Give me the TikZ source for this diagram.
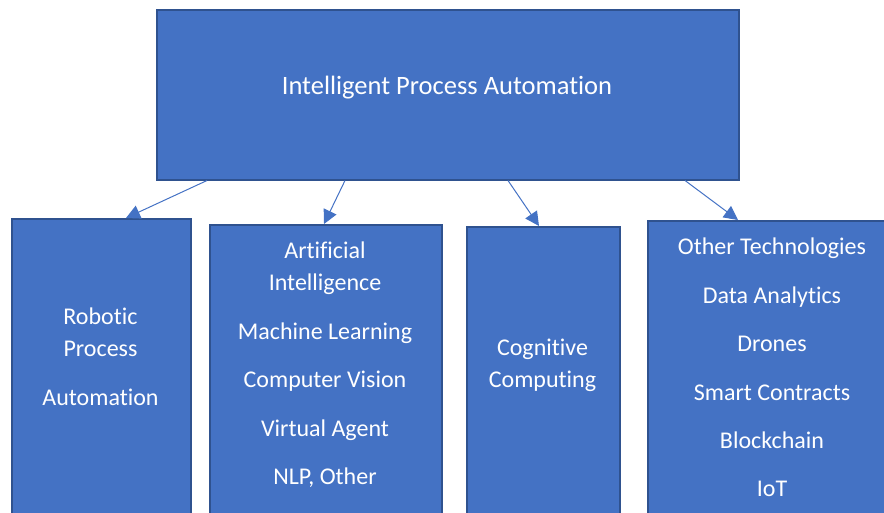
\documentclass[tikz,border=0pt]{standalone}
\usepackage{fontspec}
\setmainfont{Carlito}[Ligatures=NoCommon]
\usetikzlibrary{arrows.meta}
\definecolor{boxblue}{HTML}{4472C4}
\definecolor{boxedge}{HTML}{2F528F}
\begin{document}
\begin{tikzpicture}[x=1pt,y=-1pt,
  blk/.style={draw=boxedge,fill=boxblue,line width=1.5pt,anchor=north west,inner sep=0pt},
  txt/.style={text=white,anchor=base,inner sep=0pt,font=\fontsize{24}{29}\selectfont},
  arr/.style={boxblue,line width=1pt,-{Triangle[length=14pt,width=14pt]}}]
\useasboundingbox (0,0) rectangle (884,512);
\clip (0,0) rectangle (884,512);
% boxes
\node[blk,minimum width=582pt,minimum height=170pt] (ipa) at (156,9) {};
\node[blk,minimum width=179pt,minimum height=320pt] (rpa) at (11,218) {};
\node[blk,minimum width=232pt,minimum height=320pt] (ai) at (209,224) {};
\node[blk,minimum width=153pt,minimum height=320pt] (cc) at (466,226) {};
\node[blk,minimum width=250pt,minimum height=320pt] (other) at (647,220) {};
% arrows
\draw[arr] ([xshift=51pt]ipa.south west) -- ([xshift=115pt]rpa.north west);
\draw[arr] ([xshift=189pt]ipa.south west) -- ([xshift=115pt]ai.north west);
\draw[arr] ([xshift=352pt]ipa.south west) -- ([xshift=73pt]cc.north west);
\draw[arr] ([xshift=529pt]ipa.south west) -- ([xshift=91pt]other.north west);
% texts
\node[txt,font=\fontsize{26.5}{32}\selectfont] (ipat) at (447,94) {Intelligent Process Automation};
\node[txt] (rpa1) at (100.5,324) {Robotic};
\node[txt] (rpa2) at (100.5,356) {Process};
\node[txt] (rpa3) at (100.5,405) {Automation};
\node[txt] (ai1) at (325,258) {Artificial};
\node[txt] (ai2) at (325,290) {Intelligence};
\node[txt] (ai3) at (325,339) {Machine Learning};
\node[txt] (ai4) at (325,387) {Computer Vision};
\node[txt] (ai5) at (325,436) {Virtual Agent};
\node[txt] (ai6) at (325,484) {NLP, Other};
\node[txt] (cc1) at (542.5,355) {Cognitive};
\node[txt] (cc2) at (542.5,387) {Computing};
\node[txt] (ot1) at (772,254) {Other Technologies};
\node[txt] (ot2) at (772,303) {Data Analytics};
\node[txt] (ot3) at (772,351) {Drones};
\node[txt] (ot4) at (772,400) {Smart Contracts};
\node[txt] (ot5) at (772,448) {Blockchain};
\node[txt] (ot6) at (772,496) {IoT};
\end{tikzpicture}
\end{document}
